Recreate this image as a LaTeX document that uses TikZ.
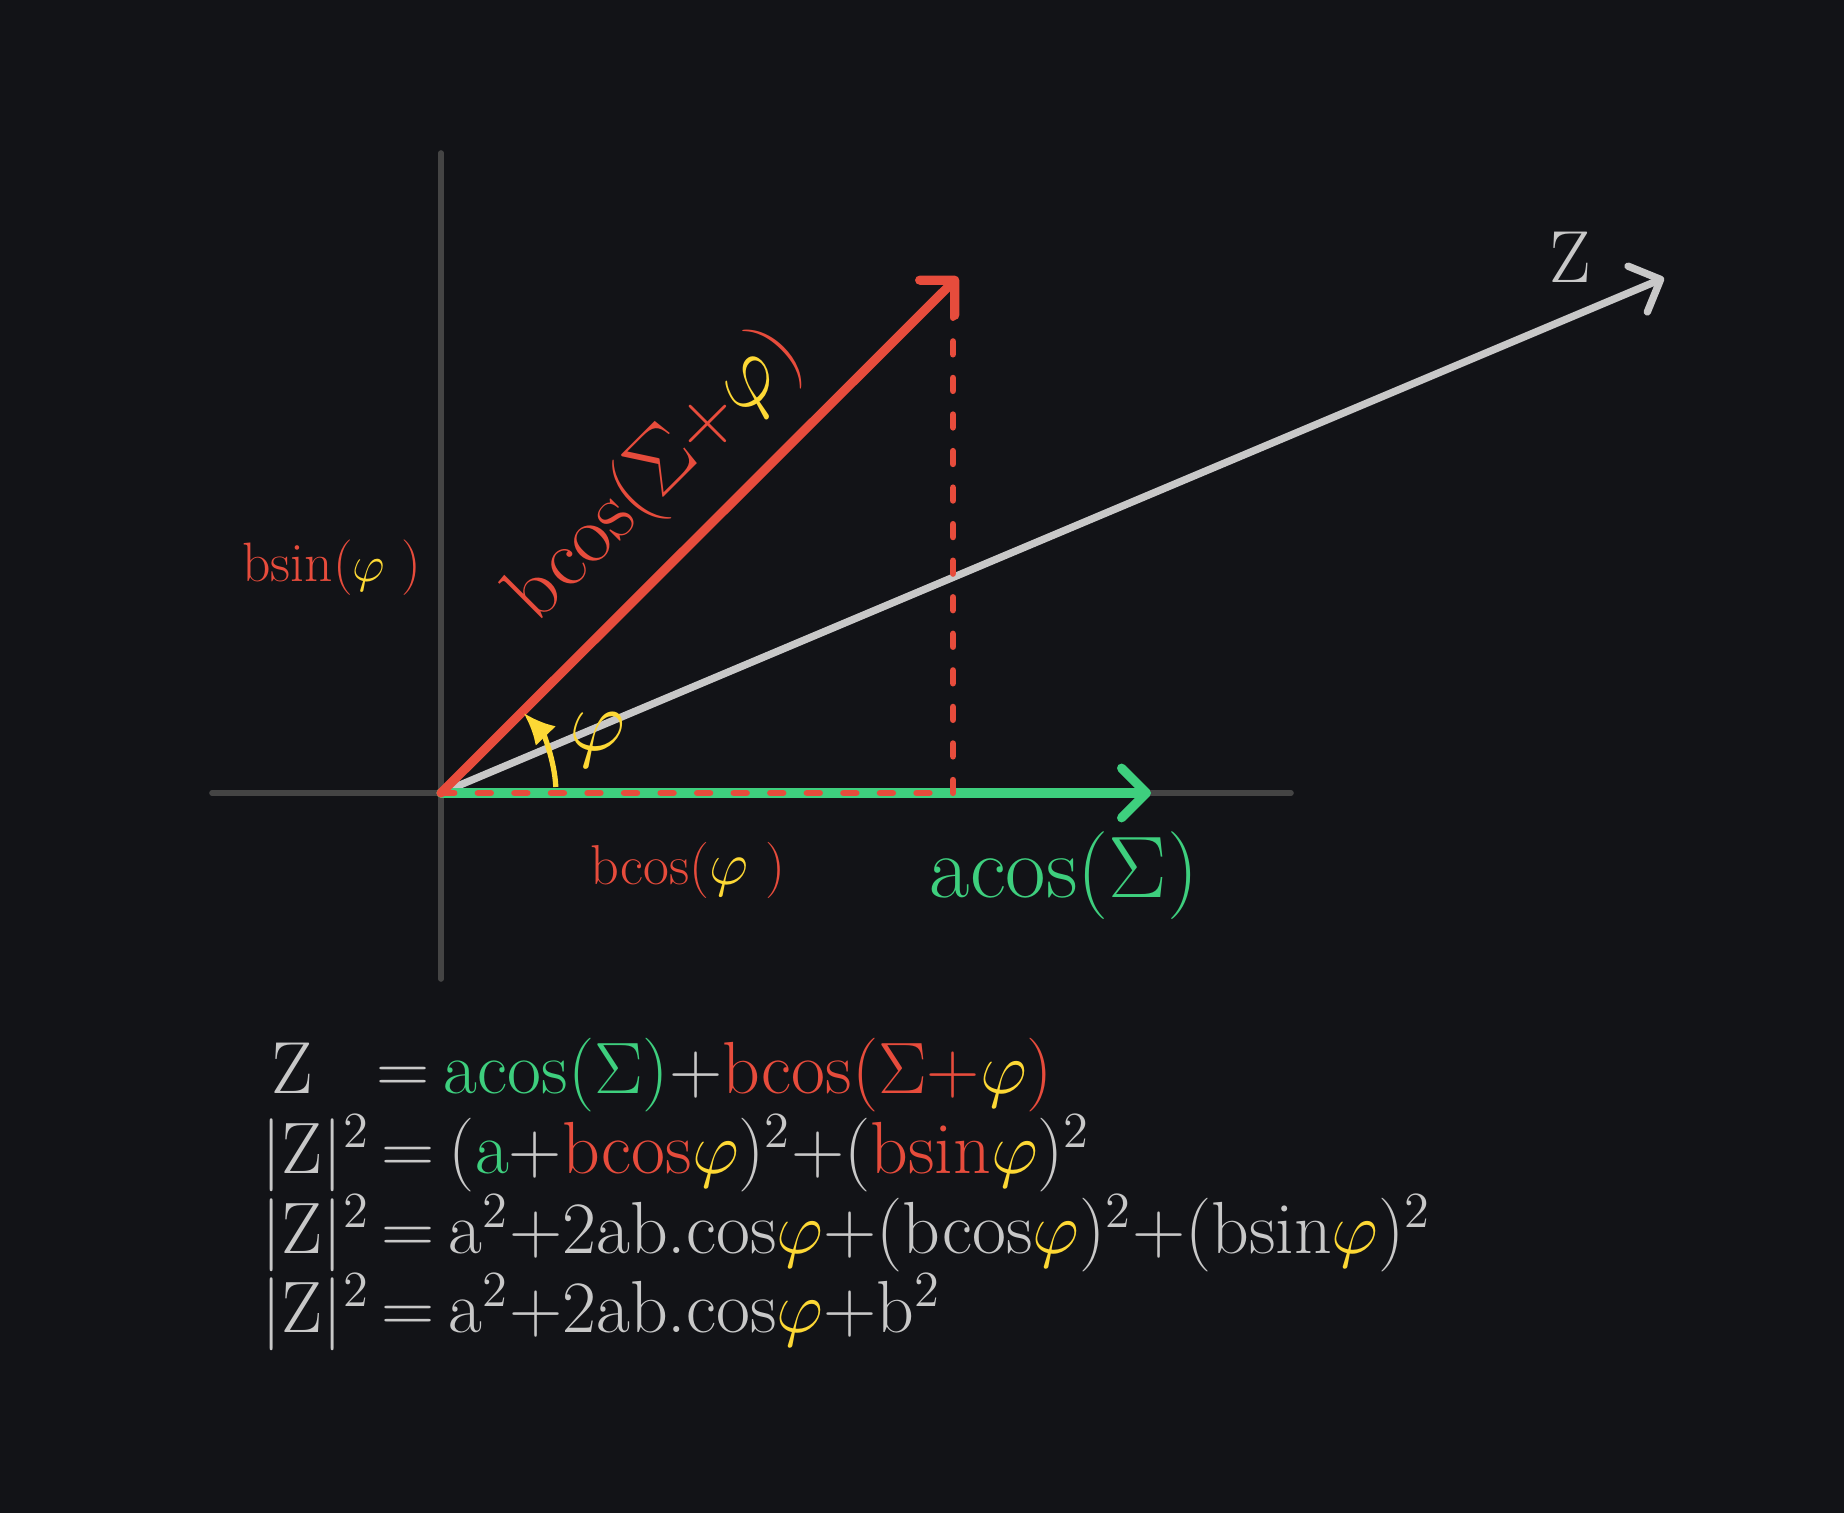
\documentclass[tikz,border=0pt]{standalone}
\usepackage{amsmath,amssymb}
\usepackage{tikz}
\usetikzlibrary{arrows.meta}

\definecolor{darkbg}{HTML}{121317}
\definecolor{axisgray}{HTML}{444444}
\definecolor{zgray}{HTML}{C8C8C8}
\definecolor{sumred}{HTML}{E74C3C}
\definecolor{sumgreen}{HTML}{3ECF7E}
\definecolor{phiyellow}{HTML}{FDD835}

\newcommand{\phiy}{\textcolor{phiyellow}{$\varphi$}}
\newcommand{\eqlhs}[2][1.2cm]{\makebox[#1][l]{#2}=\hspace{4pt}}

\tikzset{barb/.tip={Straight Barb[angle=90:10pt, line cap=round, line join=round]}}
\tikzset{axisline/.style={
  draw=axisgray,
  line width=1.6pt,
  line cap=round
}}
\tikzset{bvector/.style={
  draw=sumred,
  line width=2.6pt,
  line cap=round,
  -barb
}}
\tikzset{avector/.style={
  draw=sumgreen,
  line width=2.6pt,
  line cap=round,
  -barb
}}
\tikzset{zvector/.style={
  draw=zgray,
  line width=2.1pt,
  line cap=round,
  -barb
}}
\tikzset{projline/.style={
  draw=sumred,
  line width=1.9pt,
  line cap=round,
  dash pattern=on 3.6pt off 6.8pt
}}
\tikzset{anglearc/.style={
  draw=phiyellow,
  line width=1.5pt,
  -{Latex[length=9pt, width=8pt]}
}}
\tikzset{eqline/.style={
  anchor=base west,
  inner sep=0pt,
  text=zgray,
  font=\fontsize{21}{25}\selectfont
}}

\begin{document}
\begin{tikzpicture}
  \useasboundingbox (-4.41,-7.20) rectangle (14.03,7.93);
  \fill[darkbg] (-4.41,-7.20) rectangle (14.03,7.93);

  \coordinate (O) at (0,0);
  \coordinate (xl) at (-2.29,0);
  \coordinate (xr) at (8.50,0);
  \coordinate (yb) at (0,-1.86);
  \coordinate (yt) at (0,6.40);
  \coordinate (A) at (7.10,0);
  \coordinate (B) at (5.17,5.16);
  \coordinate (P) at (5.12,4.88);
  \coordinate (Z) at (12.23,5.15);

  \draw[axisline] (xl) -- (xr);
  \draw[axisline] (yb) -- (yt);
  \draw[zvector] (O) -- (Z);
  \draw[avector] (O) -- (A);
  \draw[projline] (P) -- (P |- O) -- (O);
  \draw[bvector] (O) -- (B);
  \draw[anglearc] (3:1.15) arc[start angle=3, end angle=44, radius=1.15];

  \node[text=zgray, font=\fontsize{21}{25}\selectfont] (zlabel) at (11.29,5.36) {Z};
  \node[text=phiyellow, font=\fontsize{23}{27}\selectfont] (philabel) at (1.57,0.53) {$\varphi$};
  \node[text=sumred, font=\fontsize{23.5}{28}\selectfont, rotate=45] (bcoslong) at (2.15,3.17) {bcos($\Sigma$+\phiy)};
  \node[text=sumred, font=\fontsize{15.8}{19}\selectfont] (bsinlabel) at (-1.09,2.25) {bsin(\phiy\ )};
  \node[text=sumred, font=\fontsize{16}{19}\selectfont] (bcoslabel) at (2.47,-0.77) {bcos(\phiy\ )};
  \node[text=sumgreen, font=\fontsize{25}{30}\selectfont] (acoslabel) at (6.23,-0.83) {acos($\Sigma$)};

  \node[eqline] (eq1) at (-1.80,-3.01) {\eqlhs[1.15cm]{\hspace{0.1cm}Z}\textcolor{sumgreen}{acos($\Sigma$)}+\textcolor{sumred}{bcos($\Sigma$+\phiy)}};
  \node[eqline] (eq2) at (-1.80,-3.81) {\eqlhs{$|\mathrm{Z}|^2$}(\textcolor{sumgreen}{a}+\textcolor{sumred}{bcos}\phiy)$^2$+(\textcolor{sumred}{bsin}\phiy)$^2$};
  \node[eqline] (eq3) at (-1.80,-4.61) {\eqlhs{$|\mathrm{Z}|^2$}a$^2$+2ab.cos\phiy+(bcos\phiy)$^2$+(bsin\phiy)$^2$};
  \node[eqline] (eq4) at (-1.80,-5.40) {\eqlhs{$|\mathrm{Z}|^2$}a$^2$+2ab.cos\phiy+b$^2$};
\end{tikzpicture}
\end{document}
